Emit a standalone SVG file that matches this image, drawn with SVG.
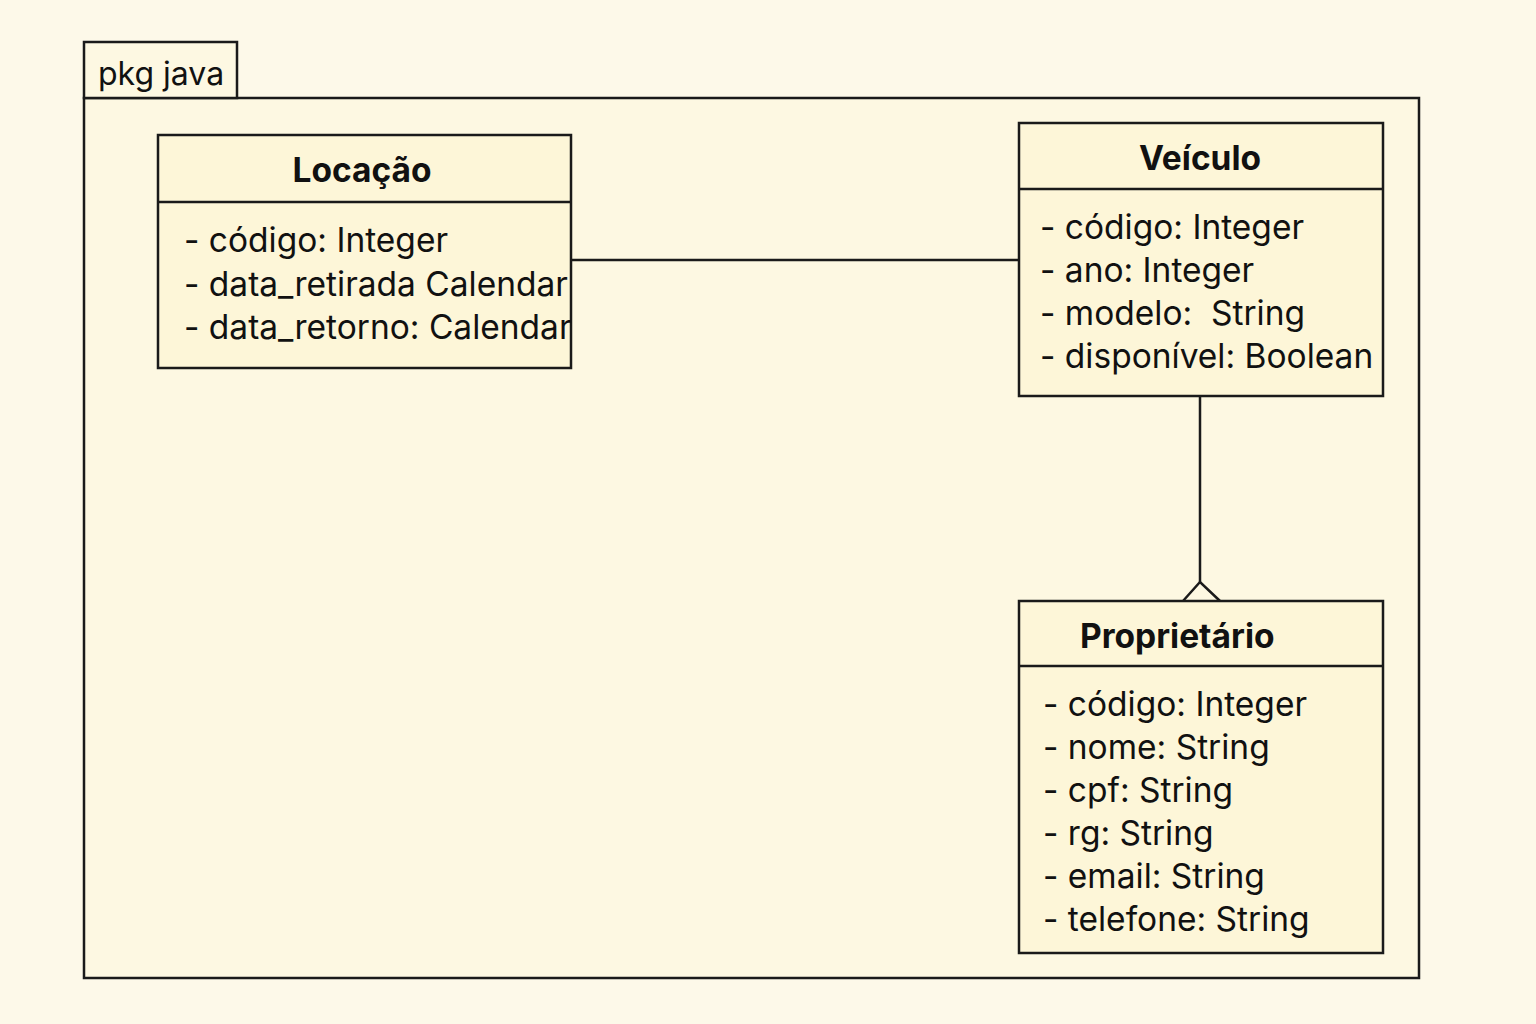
<svg xmlns="http://www.w3.org/2000/svg" width="1536" height="1024" viewBox="0 0 1536 1024">
<style>
.frame{fill:#FDF8E2;stroke:#1a1a1a;stroke-width:2.5}
.box{fill:#FDF6D8;stroke:#1a1a1a;stroke-width:2.5}
.div{stroke:#1a1a1a;stroke-width:2.5}
.title{font-family:Inter,"Liberation Sans",sans-serif;font-weight:700;font-size:33.5px;fill:#111}
.attr{font-family:Inter,"Liberation Sans",sans-serif;font-size:33.5px;fill:#111}
.pkg{font-family:Inter,"Liberation Sans",sans-serif;font-size:32px;fill:#111}
.conn{fill:none;stroke:#1a1a1a;stroke-width:2.5}
</style>
<rect width="1536" height="1024" fill="#FDF9E9"/>
<g id="package">
<rect class="frame" x="84" y="98" width="1335" height="880"/>
<rect class="frame" x="84" y="42" width="153" height="56"/>
<text class="pkg" x="98" y="85">pkg java</text>
</g>
<g id="connectors">
<line class="conn" x1="571" y1="260" x2="1019" y2="260"/>
<line class="conn" x1="1200" y1="396" x2="1200" y2="582"/>
<polyline class="conn" points="1183,601 1200,582 1220,601"/>
</g>
<g id="locacao">
<rect class="box" x="158" y="135" width="413" height="233"/>
<line class="div" x1="158" y1="202" x2="571" y2="202"/>
<text class="title" x="362" y="182" text-anchor="middle">Locação</text>
<text class="attr" x="184" y="252">- código: Integer</text>
<text class="attr" x="184" y="296">- data_retirada Calendar</text>
<text class="attr" x="184" y="339">- data_retorno: Calendar</text>
</g>
<g id="veiculo">
<rect class="box" x="1019" y="123" width="364" height="273"/>
<line class="div" x1="1019" y1="189" x2="1383" y2="189"/>
<text class="title" x="1200" y="170" text-anchor="middle">Veículo</text>
<text class="attr" x="1040" y="239">- código: Integer</text>
<text class="attr" x="1040" y="282">- ano: Integer</text>
<text class="attr" x="1040" y="325">- modelo:&#160; String</text>
<text class="attr" x="1040" y="368">- disponível: Boolean</text>
</g>
<g id="proprietario">
<rect class="box" x="1019" y="601" width="364" height="352"/>
<line class="div" x1="1019" y1="666" x2="1383" y2="666"/>
<text class="title" x="1080" y="648">Proprietário</text>
<text class="attr" x="1043" y="716">- código: Integer</text>
<text class="attr" x="1043" y="759">- nome: String</text>
<text class="attr" x="1043" y="802">- cpf: String</text>
<text class="attr" x="1043" y="845">- rg: String</text>
<text class="attr" x="1043" y="888">- email: String</text>
<text class="attr" x="1043" y="931">- telefone: String</text>
</g>
</svg>
